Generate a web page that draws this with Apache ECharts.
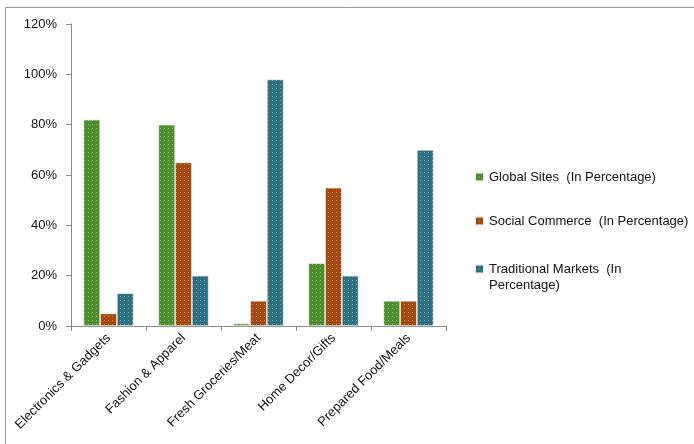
<!DOCTYPE html>
<html style="height: 100%">
<head>
<meta charset="utf-8">
</head>
<body style="height: 100%; margin: 0; background: #fff">
<div id="container" style="width: 694px; height: 444px"></div>
<script type="text/javascript" src="https://cdn.jsdelivr.net/npm/echarts@6/dist/echarts.min.js"></script>
<script type="text/javascript">
var categories = ['Electronics & Gadgets', 'Fashion & Apparel', 'Fresh Groceries/Meat', 'Home Decor/Gifts', 'Prepared Food/Meals'];
var seriesNames = ['Global Sites  (In Percentage)', 'Social Commerce  (In Percentage)', 'Traditional Markets  (In\nPercentage)'];
var globalSites = [82, 80, 1, 25, 10];
var socialCommerce = [5, 65, 10, 55, 10];
var traditionalMarkets = [13, 20, 98, 20, 70];
var colors = ['#4f8e30', '#a1490f', '#2e6f80'];

var dom = document.getElementById('container');
var myChart = echarts.init(dom);

var dots = {
    symbol: 'rect',
    symbolSize: 1,
    dashArrayX: [1, 3],
    dashArrayY: [1, 3],
    color: 'rgba(255,255,255,0.4)'
};

function makeSeries(name, data, color) {
    return {
        name: name,
        type: 'bar',
        data: data,
        barGap: '0%',
        barCategoryGap: '33%',
        itemStyle: {
            color: color,
            borderColor: 'rgba(255,255,255,0.6)',
            borderWidth: 0.6,
            decal: dots
        }
    };
}

var option = {
    animation: false,
    textStyle: { fontFamily: 'Liberation Sans' },
    graphic: [
        { type: 'line', shape: { x1: 5.5, y1: 7.5, x2: 694, y2: 7.5 }, style: { stroke: '#999', lineWidth: 1 } },
        { type: 'line', shape: { x1: 5.5, y1: 7.5, x2: 5.5, y2: 444 }, style: { stroke: '#999', lineWidth: 1 } }
    ],
    grid: { left: 71, top: 24, width: 375, bottom: 118 },
    legend: {
        orient: 'vertical',
        left: 469,
        top: 150,
        itemGap: 0,
        itemWidth: 9,
        itemHeight: 9,
        icon: 'rect',
        textStyle: { fontSize: 13, color: '#111', fontFamily: 'Liberation Sans', lineHeight: 16 },
        // leading empty line keeps the icon level with the first line of the wrapped name
        formatter: function (name) {
            return name.indexOf('\n') >= 0 ? '\n' + name : name;
        },
        data: [
            { name: seriesNames[0], textStyle: { padding: [14, 0, 14, 0] } },
            { name: seriesNames[1], textStyle: { padding: [14, 0, 14, 0] } },
            { name: seriesNames[2], textStyle: { padding: [2, 0, 2, 0] } }
        ]
    },
    xAxis: {
        type: 'category',
        data: categories,
        axisLine: { lineStyle: { color: '#888' } },
        axisTick: { show: true, length: 5, lineStyle: { color: '#888' } },
        axisLabel: { interval: 0, rotate: 45, fontSize: 13, color: '#111', margin: 10 }
    },
    yAxis: {
        type: 'value',
        min: 0,
        max: 120,
        interval: 20,
        splitLine: { show: false },
        axisLine: { show: true, lineStyle: { color: '#888' } },
        axisTick: { show: true, length: 5, lineStyle: { color: '#888' } },
        axisLabel: { formatter: '{value}%', fontSize: 13, color: '#111', margin: 14 }
    },
    series: [
        makeSeries(seriesNames[0], globalSites, colors[0]),
        makeSeries(seriesNames[1], socialCommerce, colors[1]),
        makeSeries(seriesNames[2], traditionalMarkets, colors[2])
    ]
};

myChart.setOption(option);
</script>
</body>
</html>
